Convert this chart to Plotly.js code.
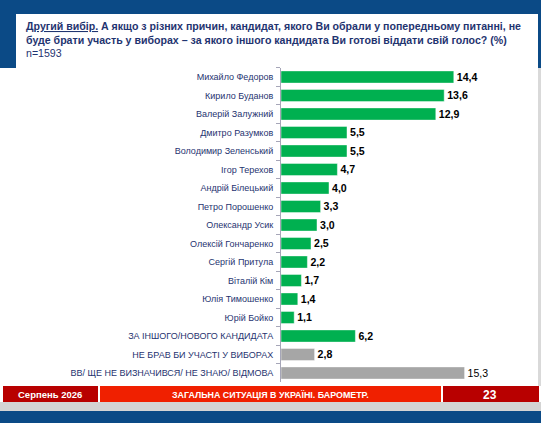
<!DOCTYPE html>
<html><head><meta charset="utf-8">
<script src="https://cdn.plot.ly/plotly-3.0.1.min.js"></script>
<style>html,body{margin:0;padding:0;background:#fff}#c{width:541px;height:423px}</style>
</head><body><div id="c"></div>
<script>
const categories = [
  "Михайло Федоров","Кирило Буданов","Валерій Залужний","Дмитро Разумков",
  "Володимир Зеленський","Ігор Терехов","Андрій Білецький","Петро Порошенко",
  "Олександр Усик","Олексій Гончаренко","Сергій Притула","Віталій Кім",
  "Юлія Тимошенко","Юрій Бойко","ЗА ІНШОГО/НОВОГО КАНДИДАТА",
  "НЕ БРАВ БИ УЧАСТІ У ВИБОРАХ","ВВ/ ЩЕ НЕ ВИЗНАЧИВСЯ/ НЕ ЗНАЮ/ ВІДМОВА"
];
const values = [14.4,13.6,12.9,5.5,5.5,4.7,4.0,3.3,3.0,2.5,2.2,1.7,1.4,1.1,6.2,2.8,15.3];
const barColors = ["#00b050","#00b050","#00b050","#00b050","#00b050","#00b050","#00b050","#00b050",
  "#00b050","#00b050","#00b050","#00b050","#00b050","#00b050","#00b050","#a6a6a6","#a6a6a6"];
const titleLines = [
  "<b><u>Другий вибір.</u> А якщо з різних причин, кандидат, якого Ви обрали у попередньому питанні, не</b>",
  "<b>буде брати участь у виборах – за якого іншого кандидата Ви готові віддати свій голос? (%)</b>",
  "n=1593"
];
const footerLeft = "Серпень 2026";
const footerMid = "ЗАГАЛЬНА СИТУАЦІЯ В УКРАЇНІ. БАРОМЕТР.";
const footerRight = "23";

const W = 541, H = 423;
const px = x => x / W;
const py = y => 1 - y / H;
const labels = values.map((v, i) => {
  const s = v.toFixed(1).replace('.', ',');
  return i === values.length - 1 ? s : '<b>' + s + '</b>';
});

const trace = {
  type: 'bar', orientation: 'h',
  y: categories, x: values,
  marker: {color: barColors, line: {color: 'rgba(255,255,255,0.45)', width: 1}},
  text: labels, textposition: 'outside', cliponaxis: false,
  textfont: {family: 'Liberation Sans, Arial, sans-serif', size: 13, color: '#000'},
  hoverinfo: 'none'
};

function rect(x0, y0, x1, y1, color) {
  return {type: 'rect', xref: 'paper', yref: 'paper', x0: px(x0), x1: px(x1), y0: py(y1), y1: py(y0),
    fillcolor: color, line: {width: 0}, layer: 'below'};
}

const shapes = [
  rect(0, 0, 541, 14, '#0b4a86'),
  rect(0, 0, 16, 68, '#0b4a86'),
  rect(538, 0, 541, 68, '#0b4a86'),
  rect(538, 68, 541, 386, '#d9d9d9'),
  rect(3, 386, 98, 402, '#b80000'),
  rect(100, 386, 441, 402, '#f02000'),
  rect(443, 386, 539, 402, '#b80000'),
  rect(0, 402, 541, 411, '#d4d4d4'),
  rect(0, 411, 541, 423, '#0b4a86')
];

const tf = {family: 'Liberation Sans, Arial, sans-serif', color: '#1f3470'};
const annotations = [];
const titleY = [26, 40, 53];
titleLines.forEach((t, i) => annotations.push({
  text: t, xref: 'paper', yref: 'paper', x: px(24), y: py(titleY[i]), xanchor: 'left', yanchor: 'middle',
  showarrow: false, font: Object.assign({size: 10.6}, tf)
}));
const ff = {family: 'Liberation Sans, Arial, sans-serif', color: '#fff'};
annotations.push({text: '<b>' + footerLeft + '</b>', xref: 'paper', yref: 'paper', x: px(50), y: py(394.5),
  xanchor: 'center', yanchor: 'middle', showarrow: false, font: Object.assign({size: 9.5}, ff)});
annotations.push({text: '<b>' + footerMid + '</b>', xref: 'paper', yref: 'paper', x: px(270), y: py(394.5),
  xanchor: 'center', yanchor: 'middle', showarrow: false, font: Object.assign({size: 8.9}, ff)});
annotations.push({text: '<b>' + footerRight + '</b>', xref: 'paper', yref: 'paper', x: px(490), y: py(394.5),
  xanchor: 'center', yanchor: 'middle', showarrow: false, font: Object.assign({size: 12}, ff)});

const layout = {
  width: W, height: H, margin: {l: 0, r: 0, t: 0, b: 0},
  paper_bgcolor: '#fff', plot_bgcolor: 'rgba(0,0,0,0)',
  showlegend: false, bargap: 0.34,
  xaxis: {domain: [px(281), px(521)], range: [0, 20], visible: false, fixedrange: true},
  yaxis: {domain: [py(382.25), py(67.75)], autorange: 'reversed', type: 'category',
    showline: true, linecolor: '#a6a6b8', linewidth: 1, showgrid: false, zeroline: false,
    ticks: 'outside', tickson: 'boundaries', ticklen: 4, tickcolor: '#a6a6b8',
    ticklabelstandoff: 5,
    tickfont: {family: 'Liberation Sans, Arial, sans-serif', size: 9, color: '#1f3470'}},
  shapes: shapes, annotations: annotations
};
Plotly.newPlot('c', [trace], layout, {displayModeBar: false, staticPlot: true});
</script></body></html>
